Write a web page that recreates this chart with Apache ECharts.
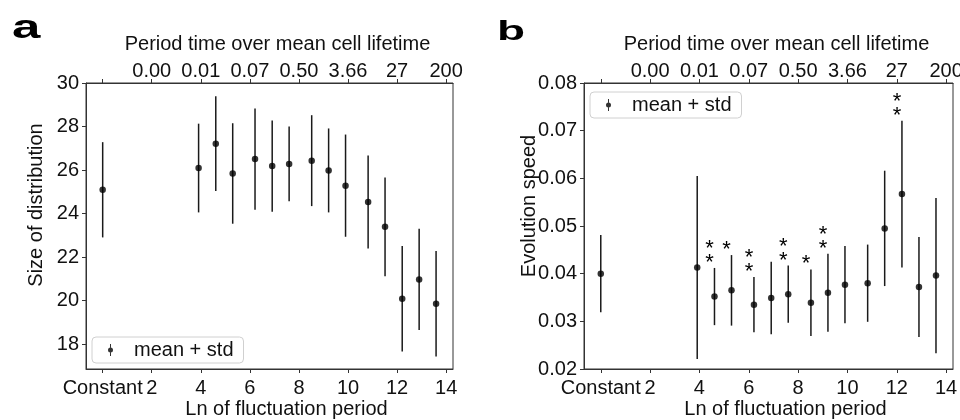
<!DOCTYPE html>
<html>
<head>
<meta charset="utf-8">
<script src="https://cdn.jsdelivr.net/npm/echarts@6.0.0/dist/echarts.min.js"></script>
<style>
  html, body { margin: 0; padding: 0; background: #fff; }
  #chart { width: 960px; height: 420px; }
</style>
</head>
<body>
<div id="chart"></div>
<script>
// ---- data ----
const xVals = [0, 3.91, 4.61, 5.30, 6.21, 6.91, 7.60, 8.52, 9.21, 9.90, 10.82, 11.51, 12.21, 12.90, 13.59];
const bottomTicks = [0, 2, 4, 6, 8, 10, 12, 14];
const bottomTickLabels = ['Constant', '2', '4', '6', '8', '10', '12', '14'];
const topTickLabels = ['', '0.00', '0.01', '0.07', '0.50', '3.66', '27', '200'];
const sizeTicks = [18, 20, 22, 24, 26, 28, 30];

const sizeMean = [25.09, 26.09, 27.21, 25.84, 26.50, 26.18, 26.28, 26.43, 25.98, 25.28, 24.53, 23.39, 20.08, 20.97, 19.85];
const sizeStd  = [2.19, 2.04, 2.18, 2.31, 2.33, 2.10, 1.72, 2.09, 1.93, 2.35, 2.14, 2.27, 2.42, 2.33, 2.43];

const speedMean = [0.0400, 0.0413, 0.0352, 0.0365, 0.0335, 0.0349, 0.0357, 0.0339, 0.0360, 0.0377, 0.0380, 0.0495, 0.0567, 0.0372, 0.0396];
const speedStd  = [0.0081, 0.0192, 0.0060, 0.0074, 0.0058, 0.0076, 0.0060, 0.0070, 0.0082, 0.0081, 0.0081, 0.0121, 0.0154, 0.0105, 0.0163];
const speedStars = [0, 0, 2, 1, 2, 0, 2, 1, 2, 0, 0, 0, 2, 0, 0];

const seriesName = 'mean + std';
const legendTitle = 'mean + std';

// ---- styling ----
const FONT = '"Liberation Sans", Arial, sans-serif';
const TXT = '#111';
const LINE = '#333';
const FS = 20;

const chart = echarts.init(document.getElementById('chart'), null, { renderer: 'canvas' });

function errData(xs, m, s) { return xs.map((x, i) => [x, m[i] - s[i], m[i] + s[i]]); }
function ptData(xs, m) { return xs.map((x, i) => [x, m[i]]); }

function renderErr(params, api) {
  const x = api.value(0);
  const p1 = api.coord([x, api.value(1)]);
  const p2 = api.coord([x, api.value(2)]);
  return { type: 'line', shape: { x1: p1[0], y1: p1[1], x2: p2[0], y2: p2[1] },
           style: { stroke: '#1a1a1a', lineWidth: 1.5 } };
}
function renderStars(params, api) {
  const n = api.value(2);
  const p = api.coord([api.value(0), api.value(1)]);
  const children = [];
  for (let k = 0; k < n; k++) {
    children.push({ type: 'text', x: p[0] - 5, y: p[1] - 10 - 14 * k + 5,
      style: { text: '*', fontSize: 22, fontFamily: FONT, align: 'center', verticalAlign: 'middle', fill: '#000' } });
  }
  return { type: 'group', children };
}

const legendIcon = 'path://M2,0h1v3.6h-1zM2,8.4h1v3.6h-1zM0,6a2.5,2.5 0 1,0 5,0a2.5,2.5 0 1,0 -5,0z';

function bottomAxis(gi) {
  return {
    type: 'value', gridIndex: gi, position: 'bottom', min: -0.68, max: 14.28,
    name: 'Ln of fluctuation period', nameLocation: 'middle', nameGap: 30, nameMoveOverlap: false,
    nameTextStyle: { fontSize: FS, fontFamily: FONT, color: TXT, padding: [0, 0, 0, 34] },
    axisLine: { show: true, onZero: false, lineStyle: { color: LINE, width: 1 } },
    axisTick: { show: true, length: 4, customValues: bottomTicks, lineStyle: { color: LINE } },
    axisLabel: { customValues: bottomTicks, margin: 9.5, fontSize: FS, fontFamily: FONT, color: TXT,
      formatter: v => bottomTickLabels[bottomTicks.indexOf(v)] },
    splitLine: { show: false }
  };
}
function topAxis(gi) {
  return {
    type: 'value', gridIndex: gi, position: 'top', min: -0.68, max: 14.28,
    name: 'Period time over mean cell lifetime', nameLocation: 'middle', nameGap: 29, nameMoveOverlap: false,
    nameTextStyle: { fontSize: FS, fontFamily: FONT, color: TXT, padding: [0, 0, 0, 16] },
    axisLine: { show: true, onZero: false, lineStyle: { color: LINE, width: 1 } },
    axisTick: { show: true, length: 4, customValues: bottomTicks, lineStyle: { color: LINE } },
    axisLabel: { customValues: bottomTicks, margin: 2, fontSize: FS, fontFamily: FONT, color: TXT,
      formatter: v => topTickLabels[bottomTicks.indexOf(v)] },
    splitLine: { show: false }
  };
}
function legendBox(left, top) {
  return {
    left: left, top: top, orient: 'horizontal',
    data: [{ name: seriesName, icon: legendIcon }],
    formatter: () => legendTitle,
    itemWidth: 5, itemHeight: 12,
    backgroundColor: '#fff', borderColor: '#d0d0d0', borderWidth: 1, borderRadius: 4,
    padding: [3, 10, 3, 16],
    textStyle: { fontSize: FS, fontFamily: FONT, color: TXT, lineHeight: 20, padding: [0, 0, 0, 16] },
    selectedMode: false
  };
}

const option = {
  backgroundColor: '#fff',
  animation: false,
  textStyle: { fontFamily: FONT },
  grid: [
    { left: 86, right: 507, top: 83, bottom: 51, outerBoundsMode: 'none', containLabel: false,
      show: true, borderColor: LINE, borderWidth: 1, backgroundColor: 'transparent' },
    { left: 584, right: 7, top: 83, bottom: 51, outerBoundsMode: 'none', containLabel: false,
      show: true, borderColor: LINE, borderWidth: 1, backgroundColor: 'transparent' }
  ],
  xAxis: [bottomAxis(0), topAxis(0), bottomAxis(1), topAxis(1)],
  yAxis: [
    {
      type: 'value', gridIndex: 0, min: 16.85, max: 30,
      name: 'Size of distribution', nameLocation: 'middle', nameGap: 40, nameMoveOverlap: false,
      nameTextStyle: { fontSize: FS, fontFamily: FONT, color: TXT, padding: [0, 0, 0, 42] },
      axisLine: { show: true, onZero: false, lineStyle: { color: LINE, width: 1 } },
      axisTick: { show: true, length: 4, customValues: sizeTicks, lineStyle: { color: LINE } },
      axisLabel: { customValues: sizeTicks, margin: 7, fontSize: FS, fontFamily: FONT, color: TXT },
      splitLine: { show: false }
    },
    {
      type: 'value', gridIndex: 1, min: 0.02, max: 0.08, interval: 0.01,
      name: 'Evolution speed', nameLocation: 'middle', nameGap: 45, nameMoveOverlap: false,
      nameTextStyle: { fontSize: FS, fontFamily: FONT, color: TXT, padding: [0, 0, 0, 40] },
      axisLine: { show: true, onZero: false, lineStyle: { color: LINE, width: 1 } },
      axisTick: { show: true, length: 4, lineStyle: { color: LINE } },
      axisLabel: { margin: 7, fontSize: FS, fontFamily: FONT, color: TXT, formatter: v => v.toFixed(2) },
      splitLine: { show: false }
    }
  ],
  legend: [legendBox(92, 337), legendBox(590, 92)],
  graphic: [
    { type: 'text', x: 12, y: 46, scaleX: 1.5, style: { text: 'a', fill: '#000', fontSize: 34, fontWeight: 'bold', fontFamily: FONT, verticalAlign: 'bottom' } },
    { type: 'text', x: 497, y: 46, scaleX: 1.7, style: { text: 'b', fill: '#000', fontSize: 27, fontWeight: 'bold', fontFamily: FONT, verticalAlign: 'bottom' } }
  ],
  series: [
    { type: 'custom', name: 'errA', xAxisIndex: 0, yAxisIndex: 0, renderItem: renderErr,
      data: errData(xVals, sizeMean, sizeStd), z: 2, silent: true },
    { type: 'scatter', name: seriesName, xAxisIndex: 0, yAxisIndex: 0, symbolSize: 6.5,
      itemStyle: { color: '#000' }, data: ptData(xVals, sizeMean), z: 3 },
    { type: 'custom', name: 'errB', xAxisIndex: 2, yAxisIndex: 1, renderItem: renderErr,
      data: errData(xVals, speedMean, speedStd), z: 2, silent: true },
    { type: 'scatter', name: seriesName, xAxisIndex: 2, yAxisIndex: 1, symbolSize: 6.5,
      itemStyle: { color: '#000' }, data: ptData(xVals, speedMean), z: 3 },
    { type: 'custom', name: 'starsB', xAxisIndex: 2, yAxisIndex: 1, renderItem: renderStars,
      data: xVals.map((x, i) => [x, speedMean[i] + speedStd[i], speedStars[i]]), z: 4, silent: true }
  ]
};
chart.setOption(option);
</script>
</body>
</html>
